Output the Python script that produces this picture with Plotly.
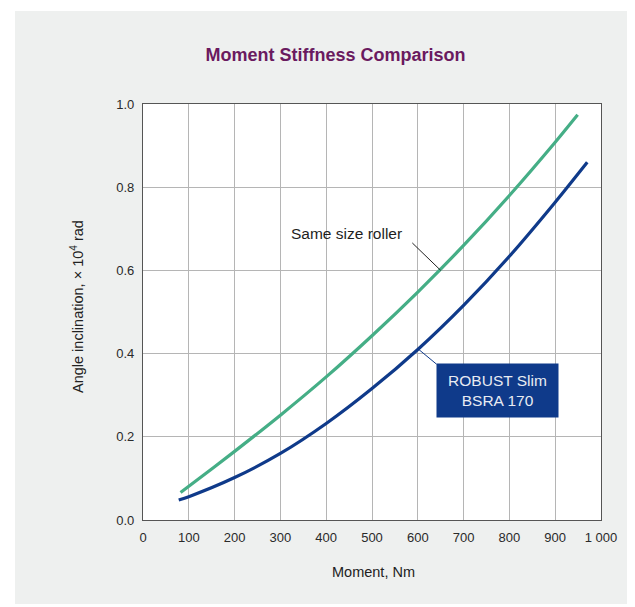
import plotly.graph_objects as go

# Data
moment_roller = [82, 100, 200, 300, 400, 500, 600, 700, 800, 900, 949]
angle_roller = [0.066, 0.081, 0.165, 0.252, 0.344, 0.443, 0.548, 0.660, 0.780, 0.908, 0.974]

moment_robust = [78, 100, 200, 300, 400, 500, 600, 700, 800, 900, 970]
angle_robust = [0.048, 0.056, 0.102, 0.160, 0.232, 0.316, 0.410, 0.516, 0.634, 0.764, 0.860]

x_ticks = [0, 100, 200, 300, 400, 500, 600, 700, 800, 900, 1000]
x_tick_labels = ["0", "100", "200", "300", "400", "500", "600", "700", "800", "900", "1 000"]
y_ticks = [0.0, 0.2, 0.4, 0.6, 0.8, 1.0]
y_tick_labels = ["0.0", "0.2", "0.4", "0.6", "0.8", "1.0"]

GREEN = "#45ae86"
BLUE = "#0f3a8a"
FONT = "Liberation Sans, Arial, Helvetica, sans-serif"

fig = go.Figure()
fig.add_trace(go.Scatter(x=moment_roller, y=angle_roller, mode="lines",
                         line=dict(color=GREEN, width=3.2, shape="spline", smoothing=0.8),
                         name="Same size roller", hoverinfo="skip"))
fig.add_trace(go.Scatter(x=moment_robust, y=angle_robust, mode="lines",
                         line=dict(color=BLUE, width=3.2, shape="spline", smoothing=0.8),
                         name="ROBUST Slim BSRA 170", hoverinfo="skip"))

# page has an 8px body margin: figure is placed at (8, 8)
OFF = 8
W, H = 635 - OFF, 607 - OFF
L, R, T, B = 143 - OFF, 34, 104 - OFF, 87
pw, ph = W - L - R, H - T - B

def px_x(p):
    # p: pixel in the window
    return (p - OFF - L) / pw

def px_y(p):
    return (H - B - (p - OFF)) / ph

shapes = [
    # white page strips around the grey panel
    dict(type="rect", xref="paper", yref="paper", x0=px_x(OFF), x1=px_x(15), y0=px_y(607), y1=px_y(OFF),
         fillcolor="white", line=dict(width=0), layer="above"),
    dict(type="rect", xref="paper", yref="paper", x0=px_x(OFF), x1=px_x(635), y0=px_y(11), y1=px_y(OFF),
         fillcolor="white", line=dict(width=0), layer="above"),
    dict(type="rect", xref="paper", yref="paper", x0=px_x(OFF), x1=px_x(635), y0=px_y(607), y1=px_y(604),
         fillcolor="white", line=dict(width=0), layer="above"),
    # leader lines
    dict(type="line", xref="x", yref="y", x0=588, y0=0.666, x1=650, y1=0.600,
         line=dict(color="#222222", width=1)),
    dict(type="line", xref="x", yref="y", x0=602, y0=0.410, x1=641, y1=0.3745,
         line=dict(color=BLUE, width=1)),
]

annotations = [
    dict(text="Same size roller", x=444, y=0.689, xref="x", yref="y", showarrow=False,
         xanchor="center", yanchor="middle",
         font=dict(family=FONT, size=15.5, color="#1e1e1e")),
    dict(text="ROBUST Slim<br>BSRA 170", x=773, y=0.311, xref="x", yref="y", showarrow=False,
         xanchor="center", yanchor="middle",
         bgcolor=BLUE, width=121, height=53, borderpad=0, align="center",
         font=dict(family=FONT, size=15.5, color="#e8ebf2")),
    dict(text="Moment, Nm", x=px_x(373), y=px_y(572), xref="paper", yref="paper", showarrow=False,
         xanchor="center", yanchor="middle",
         font=dict(family=FONT, size=14.5, color="#222222")),
    dict(text="Angle inclination, × 10<sup>4</sup> rad", x=px_x(77), y=px_y(307), xref="paper", yref="paper",
         xanchor="center", yanchor="middle",
         showarrow=False, textangle=-90, font=dict(family=FONT, size=14.5, color="#222222")),
]

fig.update_layout(
    width=W, height=H,
    margin=dict(l=L, r=R, t=T, b=B, pad=0),
    paper_bgcolor="#eef0ef",
    plot_bgcolor="white",
    showlegend=False,
    title=dict(text="<b>Moment Stiffness Comparison</b>", x=(335.5 - OFF) / W, xref="container",
               xanchor="center", y=1 - (55 - OFF) / H, yref="container", yanchor="middle",
               font=dict(family=FONT, size=18, color="#6a1a5f")),
    shapes=shapes,
    annotations=annotations,
    xaxis=dict(range=[0, 1000], tickvals=x_ticks, ticktext=x_tick_labels, showgrid=True,
               gridcolor="#b5b5b5", gridwidth=1, showline=True, mirror=True, linecolor="#555555",
               linewidth=1.2, zeroline=False, ticks="", ticklabelstandoff=5,
               tickfont=dict(family=FONT, size=13, color="#2a2a2a")),
    yaxis=dict(range=[0, 1.0], tickvals=y_ticks, ticktext=y_tick_labels, showgrid=True,
               gridcolor="#b5b5b5", gridwidth=1, showline=True, mirror=True, linecolor="#555555",
               linewidth=1.2, zeroline=False, ticks="", ticklabelstandoff=5,
               tickfont=dict(family=FONT, size=13, color="#2a2a2a")),
)

fig.write_html("out.html")
